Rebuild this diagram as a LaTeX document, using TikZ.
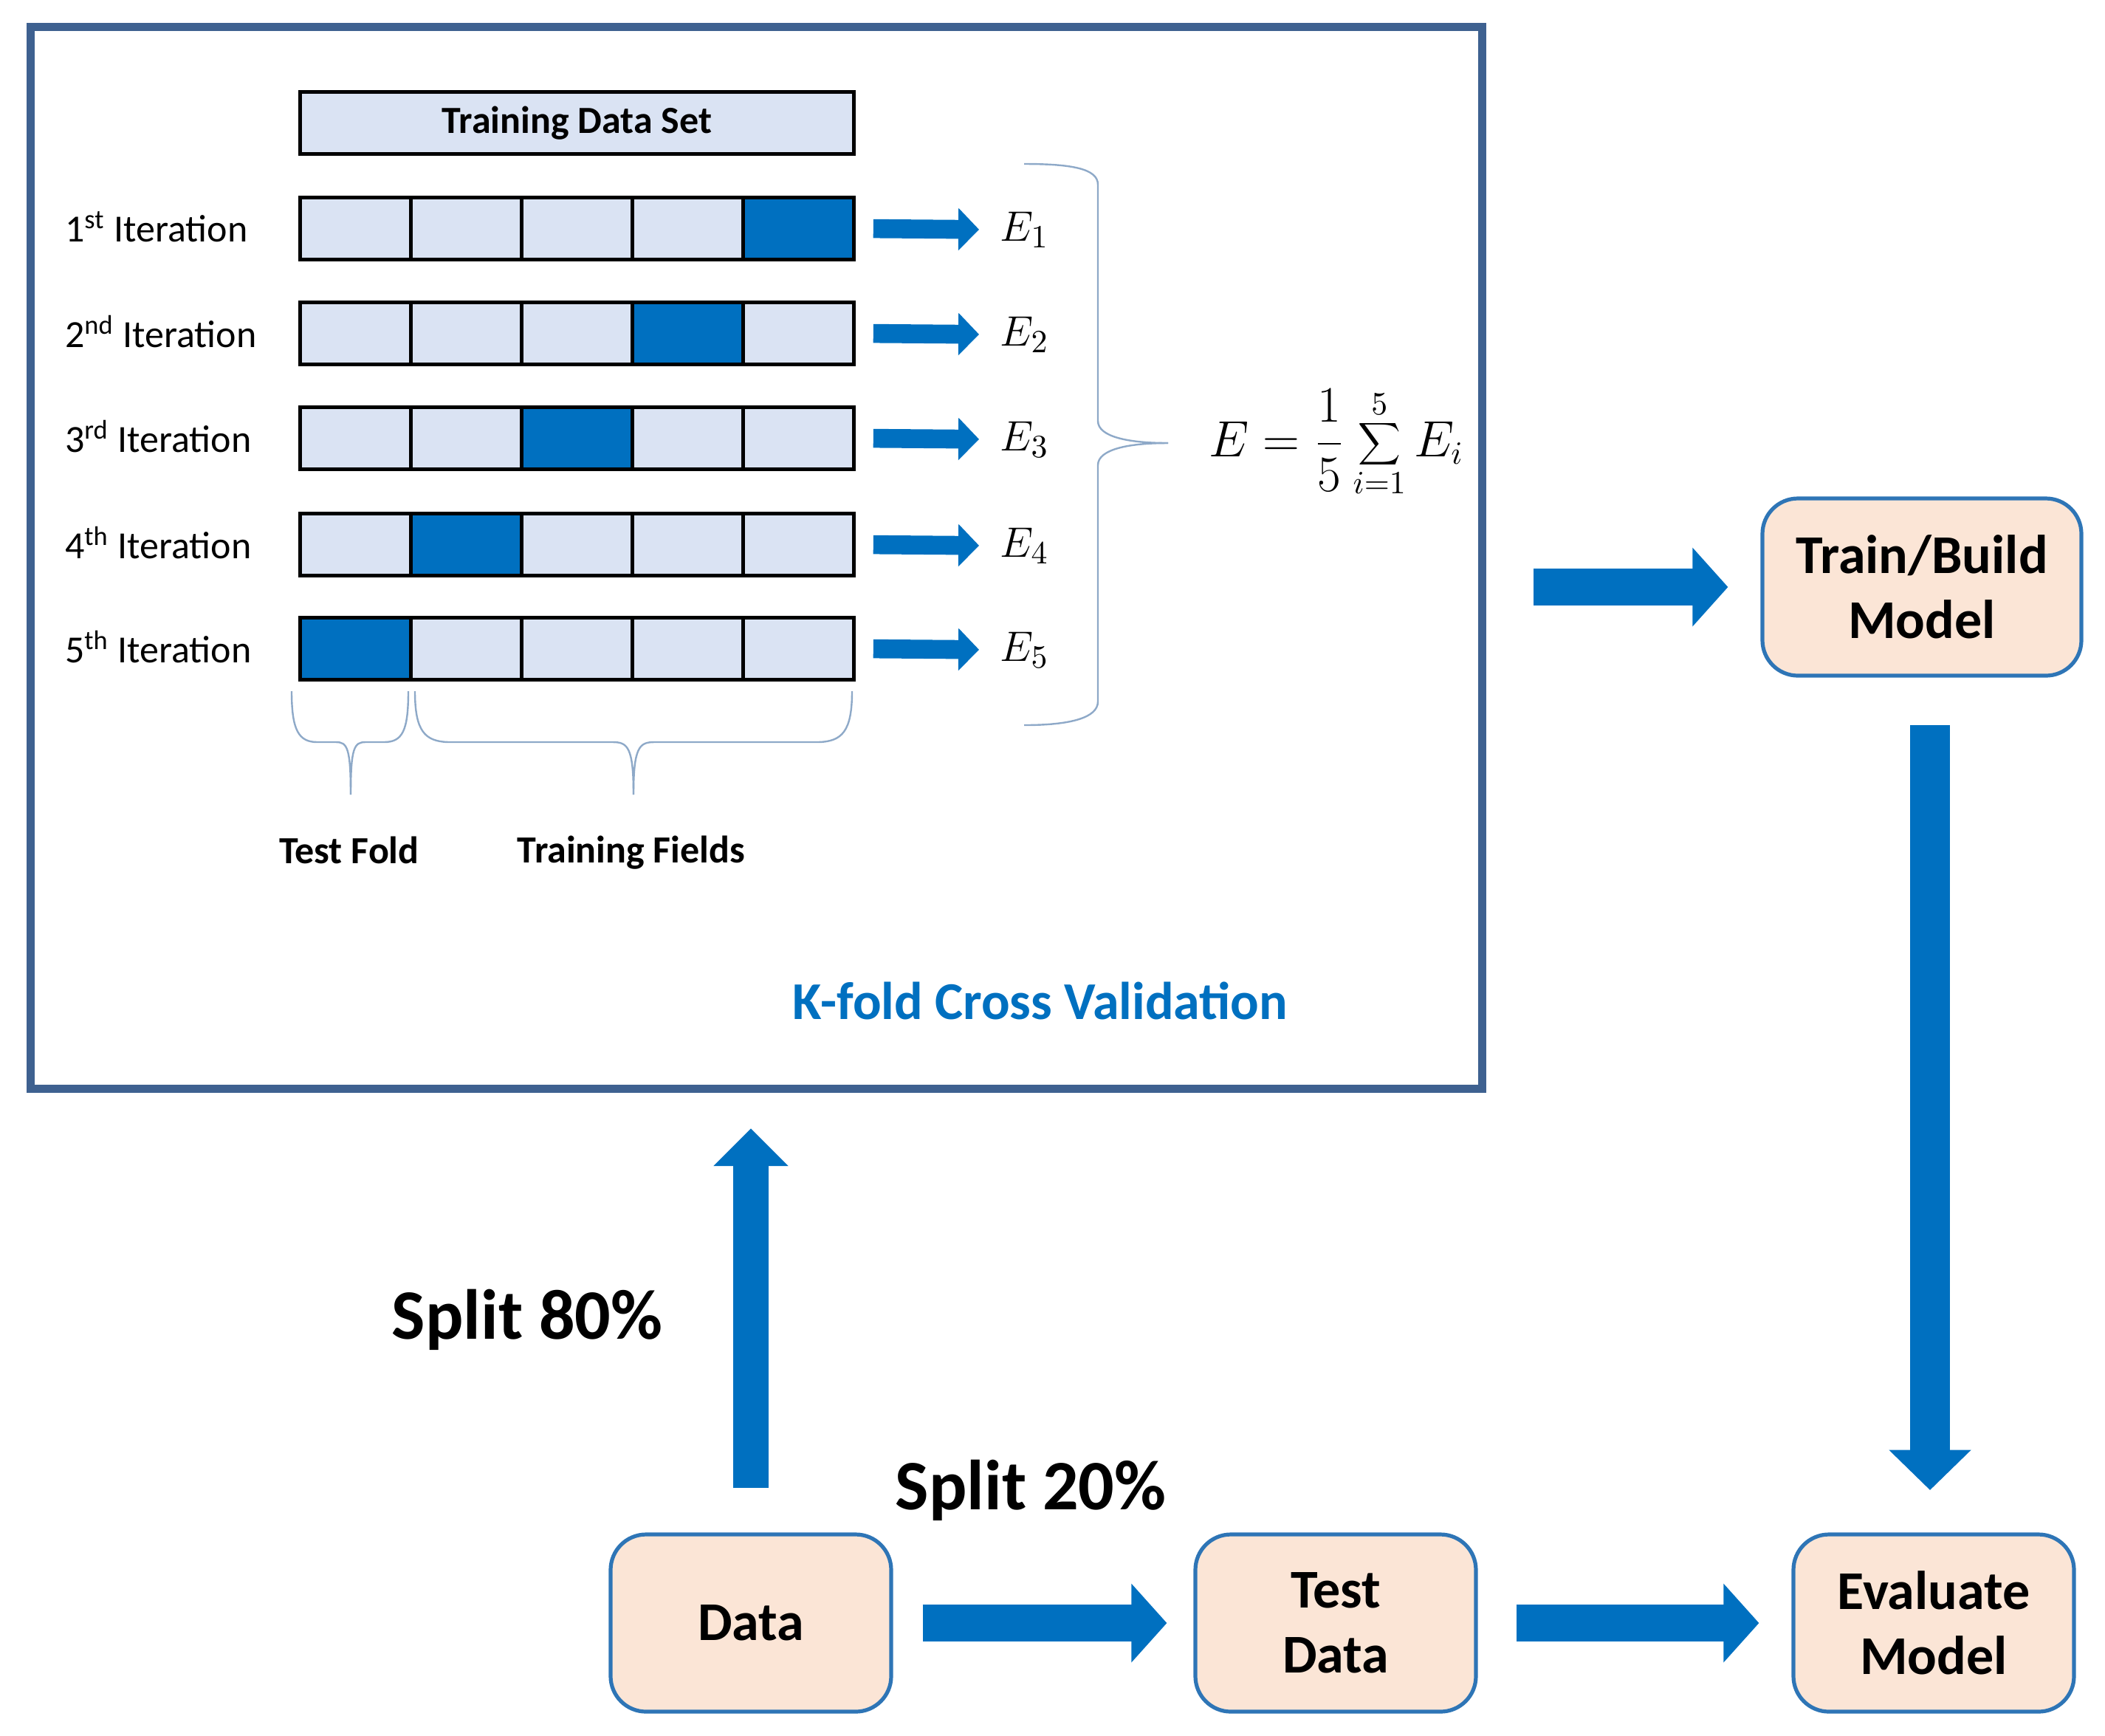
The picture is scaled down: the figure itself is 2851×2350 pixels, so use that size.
\documentclass[tikz,border=0pt]{standalone}
\usepackage{fontspec}
\setmainfont{Carlito}
\usetikzlibrary{arrows.meta}
\definecolor{dblue}{HTML}{0070C0}
\definecolor{lblue}{HTML}{DAE3F3}
\definecolor{frame}{HTML}{3E6190}
\definecolor{boxfill}{HTML}{FBE5D6}
\definecolor{boxline}{HTML}{2E75B6}
\definecolor{brace}{HTML}{8EA9C8}
\begin{document}
\begin{tikzpicture}[x=0.25pt,y=-0.25pt,
  cell/.style={draw=black,line width=1.2pt,fill=lblue,minimum width=37.5pt,minimum height=21pt,inner sep=0pt,anchor=north west},
  hot/.style={cell,fill=dblue},
  iter/.style={anchor=west,font=\fontsize{13}{15}\selectfont},
  ev/.style={anchor=west,font=\fontsize{15}{17}\selectfont,inner sep=1pt},
  small/.style={dblue,line width=6.4pt,-{Triangle[length=7pt,width=14pt]}},
  big/.style={dblue,line width=12.7pt,-{Triangle[length=12pt,width=26pt]}},
  proc/.style={draw=boxline,line width=1.3pt,fill=boxfill,rounded corners=12pt,minimum width=95pt,minimum height=60pt,align=center,font=\bfseries\fontsize{18.5}{22}\selectfont},
  br/.style={draw=brace,line width=0.6pt}]
\useasboundingbox (0,0) rectangle (2851,2350);
\node[draw=frame,line width=2.8pt,minimum width=491.5pt,minimum height=359.5pt,anchor=north west,inner sep=0pt] (frame) at (36,31) {};
\node[draw=black,line width=1.2pt,fill=lblue,minimum width=187.5pt,minimum height=21pt,anchor=north west,inner sep=0pt,font=\bfseries\fontsize{13}{15}\selectfont] (tds) at (404,122) {Training Data Set};
\foreach \r/\y/\h/\lab in {1/265/5/1\textsuperscript{st},2/407/4/2\textsuperscript{nd},3/549/3/3\textsuperscript{rd},4/693/2/4\textsuperscript{th},5/834/1/5\textsuperscript{th}}{
  \foreach \c/\x in {1/404,2/554,3/704,4/854,5/1004}{
    \ifnum\c=\h \node[hot] (r\r c\c) at (\x,\y) {};
    \else \node[cell] (r\r c\c) at (\x,\y) {}; \fi
  }
  \node[iter] (it\r) at (74,\y+42) {\lab\ Iteration};
  \node[ev] (e\r) at (1350,\y+46) {$E_{\r}$};
  \draw[small,shorten <=6pt,shorten >=6pt] (r\r c5.east) -- (e\r.west);
}
% big brace
\draw[br] (1387,222) .. controls (1450,222) and (1487,228) .. (1487,250) -- (1487,570) .. controls (1487,592) and (1530,600) .. (1582,600);
\draw[br] (1582,600) .. controls (1530,600) and (1487,608) .. (1487,630) -- (1487,950) .. controls (1487,972) and (1450,982) .. (1387,982);
\node[font=\fontsize{16}{18}\selectfont] (formula) at (1810,600) {$\displaystyle E=\frac{1}{5}\sum_{i=1}^{5}E_i$};
% bottom braces
\draw[br] (395,936) .. controls (395,990) and (405,1005) .. (430,1005) -- (455,1005) .. controls (470,1005) and (475,1012) .. (475,1076);
\draw[br] (553,936) .. controls (553,990) and (545,1005) .. (520,1005) -- (495,1005) .. controls (480,1005) and (475,1012) .. (475,1076);
\draw[br] (562,936) .. controls (562,990) and (575,1005) .. (610,1005) -- (830,1005) .. controls (850,1005) and (858,1012) .. (858,1076);
\draw[br] (1154,936) .. controls (1154,990) and (1141,1005) .. (1106,1005) -- (886,1005) .. controls (866,1005) and (858,1012) .. (858,1076);
\node[font=\bfseries\fontsize{13}{15}\selectfont] (tf) at (473,1151) {Test Fold};
\node[font=\bfseries\fontsize{13}{15}\selectfont] (trf) at (855,1155) {Training Fields};
\node[font=\bfseries\fontsize{18}{21}\selectfont,text=dblue] (kf) at (1409,1355) {K-fold Cross Validation};
% process boxes
\node[proc,minimum width=108pt] (train) at (2603,795) {Train/Build\\Model};
\node[proc] (data) at (1017,2198) {Data};
\node[proc] (test) at (1809,2198) {Test\\Data};
\node[proc] (eval) at (2619,2198) {Evaluate\\Model};
\coordinate (dtop) at (2614,914);
\coordinate (dbot) at (2614,2078);
\draw[big,shorten <=16pt,shorten >=11pt] (frame.east |- train.west) -- (train.west);
\draw[big,line width=13.6pt,-{Triangle[length=13.6pt,width=27pt]},shorten <=17pt,shorten >=15pt] (dtop) -- (dbot);
\draw[big,line width=12pt,-{Triangle[length=12.7pt,width=24.5pt]},shorten <=15pt,shorten >=12pt] (data.north) -- (frame.south -| data.north);
\draw[big,shorten <=10pt,shorten >=9pt] (data.east) -- (test.west);
\draw[big,shorten <=13pt,shorten >=11pt] (test.east) -- (eval.west);
\node[font=\bfseries\fontsize{24}{28}\selectfont] (s80) at (714,1787) {Split 80\%};
\node[font=\bfseries\fontsize{24}{28}\selectfont] (s20) at (1396,2018) {Split 20\%};
\end{tikzpicture}
\end{document}
